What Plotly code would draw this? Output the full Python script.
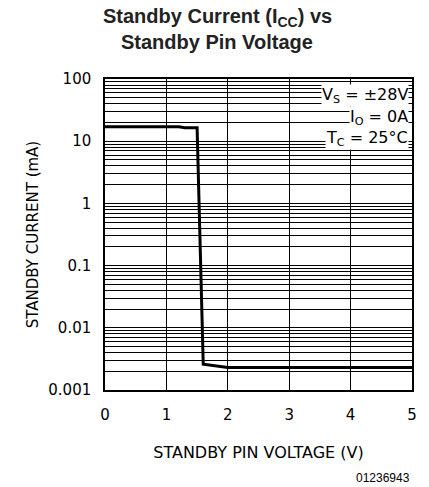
import plotly.graph_objects as go

voltage = [0, 1.2, 1.3, 1.5, 1.6, 1.85, 2.0, 5.0]
current_ma = [17, 17, 16.5, 16.5, 0.0026, 0.0024, 0.0023, 0.0023]

decades = [0.001, 0.01, 0.1, 1, 10, 100]
decade_labels = ["0.001", "0.01", "0.1", "1", "10", "100"]
x_ticks = [0, 1, 2, 3, 4, 5]
conditions = ["V<sub>S</sub> = ±28V", "I<sub>O</sub> = 0A", "T<sub>C</sub> = 25°C"]

fig = go.Figure()
fig.add_trace(go.Scatter(x=voltage, y=current_ma, mode="lines",
                         line=dict(color="black", width=3), showlegend=False))

font_tech = "DejaVu Sans"
grid_w = 1.2
fig.update_layout(
    width=429, height=487,
    margin=dict(l=105, r=14, t=79, b=97),
    paper_bgcolor="white", plot_bgcolor="white",
    xaxis=dict(range=[0, 5], tickvals=x_ticks, ticktext=[str(t) for t in x_ticks],
               showgrid=True, gridcolor="black", gridwidth=grid_w,
               showline=True, linecolor="black", linewidth=1.5, mirror=True,
               ticks="", zeroline=False, ticklabelstandoff=10,
               tickfont=dict(family=font_tech, size=15, color="black"),
               title=dict(text="STANDBY PIN VOLTAGE (V)", standoff=24,
                          font=dict(family=font_tech, size=16, color="black"))),
    yaxis=dict(type="log", range=[-3, 2], tickvals=decades, ticktext=decade_labels,
               showgrid=True, gridcolor="black", gridwidth=grid_w,
               minor=dict(showgrid=True, gridcolor="black", gridwidth=grid_w, dtick="D1", ticks=""),
               showline=True, linecolor="black", linewidth=1.5, mirror=True,
               ticks="", zeroline=False, ticklabelstandoff=9,
               tickfont=dict(family=font_tech, size=15, color="black"),
               title=dict(text="STANDBY CURRENT (mA)", standoff=6,
                          font=dict(family=font_tech, size=15, color="black"))),
)

title_font = dict(family="Liberation Sans, Arial", size=20, color="#222")
fig.add_annotation(xref="paper", yref="paper", x=0.365, y=1 + (79 - 18) / 311,
                   xanchor="center", yanchor="middle", showarrow=False,
                   text="<b>Standby Current (I<sub>CC</sub>) vs</b>", font=title_font)
fig.add_annotation(xref="paper", yref="paper", x=0.365, y=1 + (79 - 42) / 311,
                   xanchor="center", yanchor="middle", showarrow=False,
                   text="<b>Standby Pin Voltage</b>", font=title_font)

for txt, yc in zip(conditions, [95, 117, 138]):
    fig.add_annotation(xref="paper", yref="paper", x=0.99, y=1 - (yc - 79) / 311,
                       xanchor="right", yanchor="middle",
                       text=txt, align="right", showarrow=False, bgcolor="white", borderpad=0,
                       font=dict(family=font_tech, size=16, color="black"))
fig.add_annotation(xref="paper", yref="paper", x=1.0, y=-(478 - 390) / 311, xanchor="right", yanchor="middle",
                   text="01236943", showarrow=False,
                   font=dict(family="Liberation Sans, Arial", size=12, color="black"))

fig.write_html("out.html", config={"displayModeBar": False},
               post_script="document.body.style.margin='0';")
